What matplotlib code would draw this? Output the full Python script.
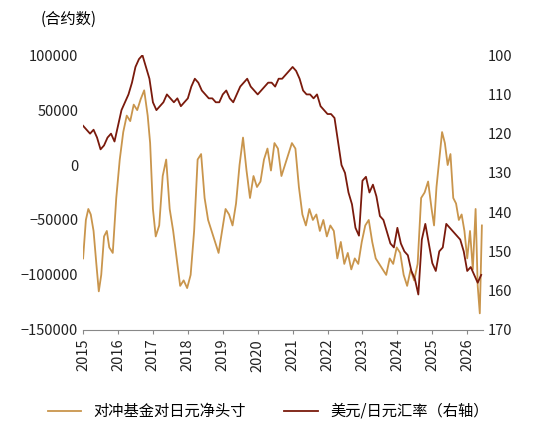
import matplotlib
matplotlib.use("Agg")
import matplotlib.pyplot as plt

plt.rcParams['font.family'] = ['Noto Sans CJK SC', 'DejaVu Sans']

pos_t = [2015.0,2015.08,2015.15,2015.22,2015.3,2015.38,2015.45,2015.52,2015.6,2015.68,2015.75,2015.85,2015.95,2016.05,2016.15,2016.25,2016.35,2016.45,2016.55,2016.65,2016.75,2016.85,2016.92,2017.0,2017.08,2017.18,2017.28,2017.38,2017.48,2017.58,2017.68,2017.78,2017.88,2017.98,2018.08,2018.18,2018.28,2018.38,2018.48,2018.58,2018.68,2018.78,2018.88,2018.98,2019.08,2019.18,2019.28,2019.38,2019.48,2019.58,2019.68,2019.78,2019.88,2019.98,2020.08,2020.18,2020.28,2020.38,2020.48,2020.58,2020.68,2020.78,2020.88,2020.98,2021.08,2021.18,2021.28,2021.38,2021.48,2021.58,2021.68,2021.78,2021.88,2021.98,2022.08,2022.18,2022.28,2022.38,2022.48,2022.58,2022.68,2022.78,2022.88,2022.98,2023.08,2023.18,2023.28,2023.38,2023.48,2023.58,2023.68,2023.78,2023.88,2023.98,2024.08,2024.18,2024.28,2024.38,2024.48,2024.58,2024.68,2024.78,2024.88,2024.98,2025.05,2025.12,2025.2,2025.28,2025.36,2025.44,2025.52,2025.6,2025.68,2025.76,2025.84,2025.92,2026.0,2026.08,2026.16,2026.24,2026.3,2026.36,2026.42]
pos_v = [-85000,-50000,-40000,-45000,-60000,-90000,-115000,-100000,-65000,-60000,-75000,-80000,-30000,5000,30000,45000,40000,55000,50000,60000,68000,45000,20000,-40000,-65000,-55000,-10000,5000,-40000,-60000,-85000,-110000,-105000,-112000,-100000,-60000,5000,10000,-30000,-50000,-60000,-70000,-80000,-60000,-40000,-45000,-55000,-35000,0,25000,-5000,-30000,-10000,-20000,-15000,5000,15000,-5000,20000,15000,-10000,0,10000,20000,15000,-20000,-45000,-55000,-40000,-50000,-45000,-60000,-50000,-65000,-55000,-60000,-85000,-70000,-90000,-80000,-95000,-85000,-90000,-70000,-55000,-50000,-70000,-85000,-90000,-95000,-100000,-85000,-90000,-75000,-80000,-100000,-110000,-95000,-105000,-90000,-30000,-25000,-15000,-40000,-55000,-20000,5000,30000,20000,0,10000,-30000,-35000,-50000,-45000,-60000,-85000,-60000,-95000,-40000,-110000,-135000,-55000]

fx_t = [2015.0,2015.1,2015.2,2015.3,2015.4,2015.5,2015.6,2015.7,2015.8,2015.9,2016.0,2016.1,2016.2,2016.3,2016.4,2016.5,2016.6,2016.7,2016.8,2016.9,2017.0,2017.1,2017.2,2017.3,2017.4,2017.5,2017.6,2017.7,2017.8,2017.9,2018.0,2018.1,2018.2,2018.3,2018.4,2018.5,2018.6,2018.7,2018.8,2018.9,2019.0,2019.1,2019.2,2019.3,2019.4,2019.5,2019.6,2019.7,2019.8,2019.9,2020.0,2020.1,2020.2,2020.3,2020.4,2020.5,2020.6,2020.7,2020.8,2020.9,2021.0,2021.1,2021.2,2021.3,2021.4,2021.5,2021.6,2021.7,2021.8,2021.9,2022.0,2022.1,2022.2,2022.3,2022.4,2022.5,2022.6,2022.7,2022.8,2022.9,2023.0,2023.1,2023.2,2023.3,2023.4,2023.5,2023.6,2023.7,2023.8,2023.9,2024.0,2024.1,2024.2,2024.3,2024.4,2024.5,2024.6,2024.7,2024.8,2024.9,2025.0,2025.1,2025.2,2025.3,2025.4,2025.5,2025.6,2025.7,2025.8,2025.9,2026.0,2026.1,2026.2,2026.3,2026.4]
fx_v = [118,119,120,119,121,124,123,121,120,122,118,114,112,110,107,103,101,100,103,106,112,114,113,112,110,111,112,111,113,112,111,108,106,107,109,110,111,111,112,112,110,109,111,112,110,108,107,106,108,109,110,109,108,107,107,108,106,106,105,104,103,104,106,109,110,110,111,110,113,114,115,115,116,122,128,130,135,138,144,146,132,131,135,133,136,141,142,145,148,149,144,148,150,151,155,157,161,147,143,148,153,155,150,149,143,144,145,146,147,150,155,154,156,158,156]

fig = plt.figure(figsize=(5.36, 4.38), dpi=100)
ax = fig.add_axes([0.155, 0.247, 0.746, 0.627])
ax2 = ax.twinx()
gold = '#C9954C'
red = '#7A1A0C'
l1, = ax.plot(pos_t, pos_v, color=gold, lw=1.3, label='对冲基金对日元净头寸')
l2, = ax2.plot(fx_t, fx_v, color=red, lw=1.3, label='美元/日元汇率（右轴）')
ax.set_ylim(-150000, 100000)
ax.set_yticks(range(-150000, 100001, 50000))
ax2.set_ylim(170, 100)
ax2.set_yticks(range(100, 171, 10))
ax.set_xlim(2015, 2026.45)
ax.set_xticks(range(2015, 2027))
ax.set_xticklabels([str(y) for y in range(2015, 2027)], rotation=90)
for a in (ax, ax2):
    for s in a.spines.values():
        s.set_visible(False)
    a.tick_params(length=0, labelsize=10.5, colors='#222222')
ax.spines['bottom'].set_visible(True)
ax.spines['bottom'].set_color('#888888')
ax.tick_params(axis='x', length=3, color='#888888')
fig.text(0.075, 0.945, '(合约数)', fontsize=11)
fig.legend(handles=[l1, l2], loc='lower center', ncol=2, frameon=False,
           fontsize=11, bbox_to_anchor=(0.5, 0.01), handlelength=2.2, columnspacing=2.5)
fig.savefig('out.png', dpi=100)
